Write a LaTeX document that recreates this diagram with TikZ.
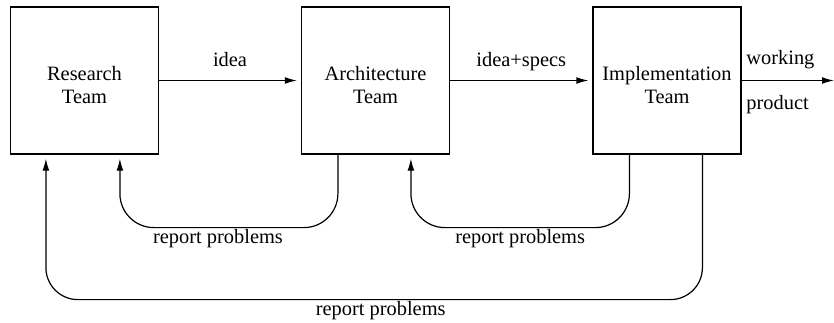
\documentclass[tikz,border=0pt]{standalone}
\usepackage{fontspec}
\setmainfont{Liberation Serif}
\usetikzlibrary{arrows.meta}
\newcommand\teamtext[2]{\raisebox{0.25pt}[0pt][0pt]{\begin{tabular}[t]{@{}c@{}}#1\\#2\end{tabular}}}
\begin{document}
\begin{tikzpicture}[x=0.5pt,y=-0.5pt,
  team/.style={draw, line width=0.6pt, minimum width=74pt, minimum height=73.5pt, inner sep=0pt, font=\fontsize{10.2}{11.5}\selectfont},
  arr/.style={line width=0.6pt, -{Latex[length=6pt,width=3.4pt]}, shorten >=2pt},
  lab/.style={anchor=base, font=\fontsize{10.2}{12}\selectfont, inner sep=0pt},
  txt/.style={font=\fontsize{10.2}{12}\selectfont, inner sep=0pt}]
\useasboundingbox (0,0) rectangle (834,322);
\node[team] (b1) at (84.5,80.5) {\teamtext{Research}{Team}};
\node[team] (b2) at (375.5,80.5) {\teamtext{Architecture}{Team}};
\node[team] (b3) at (667,80.5) {\teamtext{Implementation}{Team}};
\coordinate (out) at (834,80.5);
\draw[arr] (b1.east) -- node[lab, yshift=7pt]{idea} (b2.west);
\draw[arr] (b2.east) -- node[lab, yshift=7pt]{idea+specs} (b3.west);
\draw[arr, shorten >=0pt] (b3.east) -- (out);
\node[txt, anchor=base west] (w) at (746,64) {working};
\node[txt, anchor=base west] (p) at (746,109) {product};
\draw[arr, rounded corners=17pt] ([shift={(37,0)}]b2.south west) -- ([shift={(37,73)}]b2.south west)
  -- node[lab, pos=0.55, yshift=-8pt]{report problems} ([shift={(110,73)}]b1.south west) -- ([shift={(110,0)}]b1.south west);
\draw[arr, rounded corners=17pt] ([shift={(37,0)}]b3.south west) -- ([shift={(37,73)}]b3.south west)
  -- node[lab, pos=0.5, yshift=-8pt]{report problems} ([shift={(110,73)}]b2.south west) -- ([shift={(110,0)}]b2.south west);
\draw[arr, rounded corners=16pt] ([shift={(110,0)}]b3.south west) -- ([shift={(110,145)}]b3.south west)
  -- node[lab, pos=0.49, yshift=-8pt]{report problems} ([shift={(36,145)}]b1.south west) -- ([shift={(36,0)}]b1.south west);
\end{tikzpicture}
\end{document}
